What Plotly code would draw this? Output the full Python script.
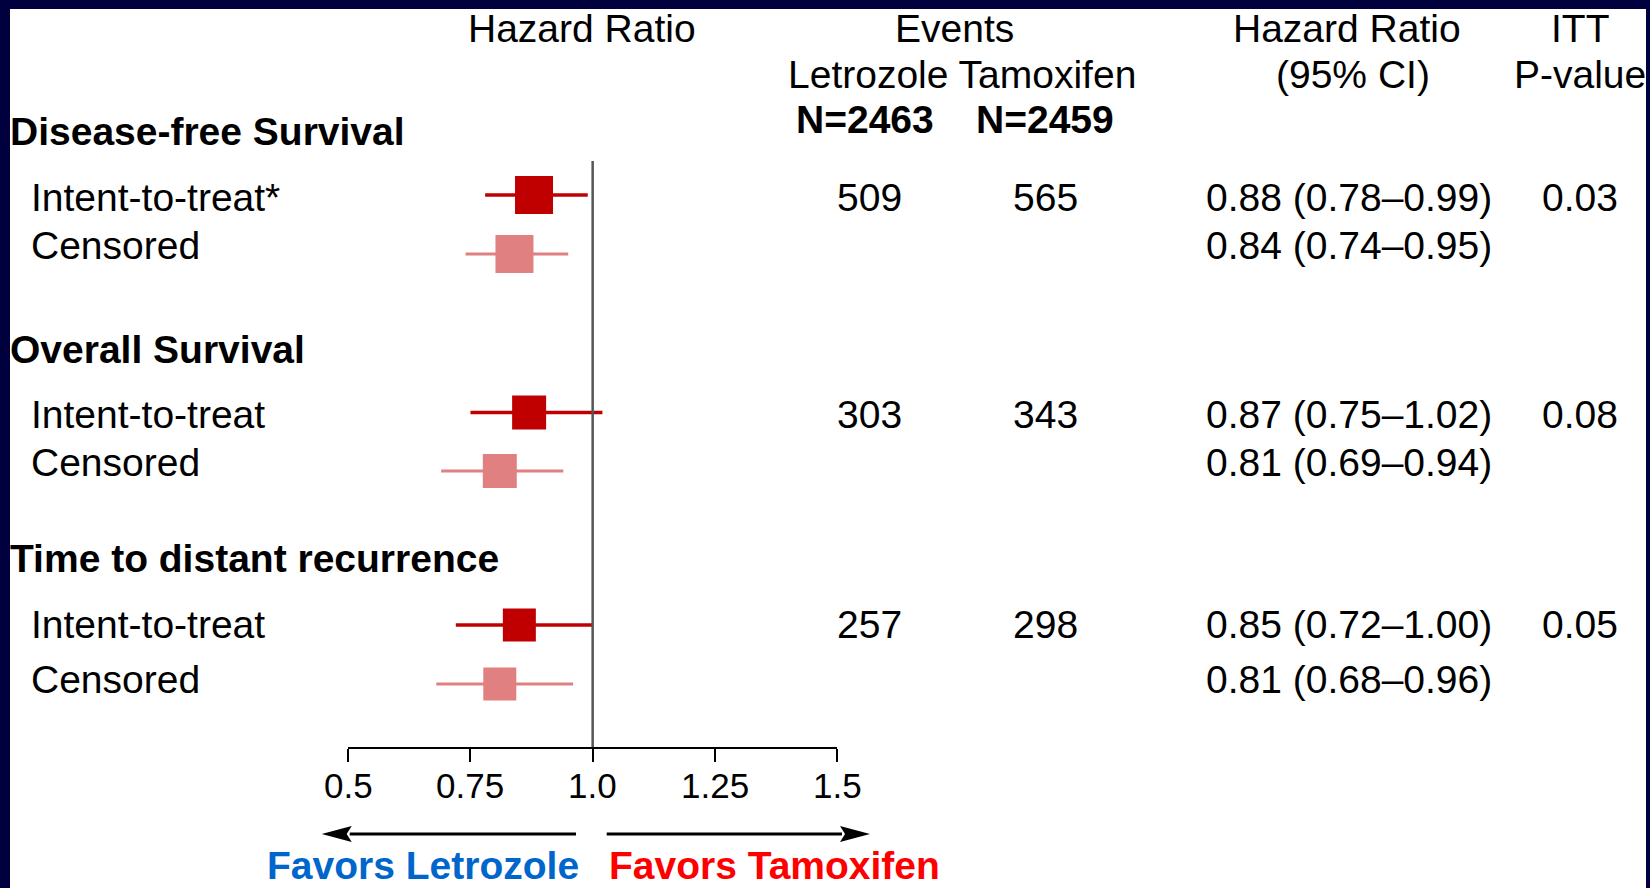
import plotly.graph_objects as go

# ---------------- data ----------------
sections = ["Disease-free Survival", "Overall Survival", "Time to distant recurrence"]
row_labels = ["Intent-to-treat*", "Censored", "Intent-to-treat", "Censored",
              "Intent-to-treat", "Censored"]
row_kind = ["itt", "cens", "itt", "cens", "itt", "cens"]
hr = [0.88, 0.84, 0.87, 0.81, 0.85, 0.81]
ci_low = [0.78, 0.74, 0.75, 0.69, 0.72, 0.68]
ci_high = [0.99, 0.95, 1.02, 0.94, 1.00, 0.96]
events_letrozole = ["509", "", "303", "", "257", ""]
events_tamoxifen = ["565", "", "343", "", "298", ""]
p_values = ["0.03", "", "0.08", "", "0.05", ""]
n_letrozole = "N=2463"
n_tamoxifen = "N=2459"
tick_vals = [0.5, 0.75, 1.0, 1.25, 1.5]
tick_text = ["0.5", "0.75", "1.0", "1.25", "1.5"]

# ---------------- layout (pixels) ----------------
W, H = 1650, 888
FONT = "Liberation Sans, Arial, sans-serif"
section_y = [131, 349.5, 558]
row_text_y = [197, 246, 414, 463, 624.5, 679]
row_mark_y = [195, 254, 412.5, 471, 625, 684]
mark_size = [38, 38, 34, 34, 33, 33]
AX_X0, AX_X1 = 348.3, 837.0
AX_Y = 747.3
TICK_LABEL_Y = 785
REF_TOP = 161
NAVY = "#00003f"
DARK_RED = "#c00000"
LIGHT_RED = "#e08080"


def px(x):
    return x / W


def py(y):
    return 1 - y / H


fig = go.Figure()

for kind, color, lw in [("itt", DARK_RED, 3.5), ("cens", LIGHT_RED, 3.2)]:
    idx = [i for i, k in enumerate(row_kind) if k == kind]
    fig.add_trace(go.Scatter(
        x=[hr[i] for i in idx],
        y=[row_mark_y[i] for i in idx],
        mode="markers",
        marker=dict(symbol="square", size=[mark_size[i] for i in idx], color=color,
                    opacity=1, line=dict(width=0)),
        error_x=dict(type="data", symmetric=False,
                     array=[ci_high[i] - hr[i] for i in idx],
                     arrayminus=[hr[i] - ci_low[i] for i in idx],
                     color=color, thickness=lw, width=0),
        showlegend=False, hoverinfo="skip",
    ))

fig.update_layout(
    width=W, height=H, autosize=False,
    margin=dict(l=0, r=0, t=0, b=0, pad=0, autoexpand=False),
    paper_bgcolor=NAVY, plot_bgcolor="rgba(0,0,0,0)",
    xaxis=dict(domain=[px(AX_X0), px(AX_X1)], range=[0.5, 1.5],
               tickvals=tick_vals, showticklabels=False,
               ticks="outside", ticklen=13, tickwidth=1.5, tickcolor="black",
               showline=True, linecolor="black", linewidth=1.5,
               showgrid=False, zeroline=False, automargin=False),
    yaxis=dict(domain=[py(AX_Y), 1], range=[AX_Y, 0], visible=False,
               showgrid=False, zeroline=False, automargin=False),
)

# tick labels of the HR axis, placed at the tick values
for v, t in zip(tick_vals, tick_text):
    fig.add_annotation(text=t, x=v, xref="x", y=py(TICK_LABEL_Y), yref="paper",
                       xanchor="center", yanchor="middle", showarrow=False,
                       borderpad=0, font=dict(size=35, color="black", family=FONT))

# white page inside the navy frame
fig.add_shape(type="rect", xref="paper", yref="paper",
              x0=px(10), x1=px(1646), y0=py(888), y1=py(9),
              fillcolor="white", line=dict(width=0), layer="below")

# reference line at HR = 1
fig.add_shape(type="line", xref="x", yref="y", x0=1, x1=1, y0=REF_TOP, y1=AX_Y,
              line=dict(color="#555555", width=2.5), layer="above")


def txt(s, x, y, anchor="center", size=39, bold=False, color="black"):
    fig.add_annotation(text=f"<b>{s}</b>" if bold else s,
                       x=px(x), y=py(y), xref="paper", yref="paper",
                       xanchor=anchor, yanchor="middle", showarrow=False,
                       borderpad=0, font=dict(size=size, color=color, family=FONT))


# headers
txt("Hazard Ratio", 582, 29)
txt("Events", 955, 29)
txt("Letrozole Tamoxifen", 962, 74)
txt(n_letrozole, 865, 120, bold=True)
txt(n_tamoxifen, 1045, 120, bold=True)
txt("Hazard Ratio", 1347, 29)
txt("(95% CI)", 1353, 74)
txt("ITT", 1580, 29)
txt("P-value", 1580, 74)

for s, y in zip(sections, section_y):
    txt(s, 9, y, anchor="left", bold=True)

for i, lab in enumerate(row_labels):
    y = row_text_y[i]
    txt(lab, 30, y, anchor="left")
    if events_letrozole[i]:
        txt(events_letrozole[i], 870, y)
    if events_tamoxifen[i]:
        txt(events_tamoxifen[i], 1045, y)
    txt(f"{hr[i]:.2f} ({ci_low[i]:.2f}\u2013{ci_high[i]:.2f})", 1493, y, anchor="right")
    if p_values[i]:
        txt(p_values[i], 1580, y)

# favours arrows
ARR_Y = 834


def arrow(x_tail, x_tip):
    d = 1 if x_tip > x_tail else -1
    base = x_tip - d * 28
    fig.add_shape(type="line", xref="paper", yref="paper",
                  x0=px(x_tail), x1=px(base), y0=py(ARR_Y), y1=py(ARR_Y),
                  line=dict(color="black", width=3.2))
    fig.add_shape(type="path", xref="paper", yref="paper",
                  path=(f"M {px(x_tip)},{py(ARR_Y)} L {px(base - d * 2)},{py(ARR_Y - 8)} "
                        f"L {px(base + d * 3)},{py(ARR_Y)} L {px(base - d * 2)},{py(ARR_Y + 8)} Z"),
                  fillcolor="black", line=dict(width=0))


arrow(576, 321.7)
arrow(606.7, 870)

txt("Favors Letrozole", 422.5, 865, bold=True, color="#0066cc")
txt("Favors Tamoxifen", 774, 865, bold=True, color="#ff0000")

fig.write_html(
    "out.html",
    config={"responsive": False, "displayModeBar": False},
    post_script=("document.body.style.margin='0';"
                 "document.body.style.overflow='hidden';"),
)
